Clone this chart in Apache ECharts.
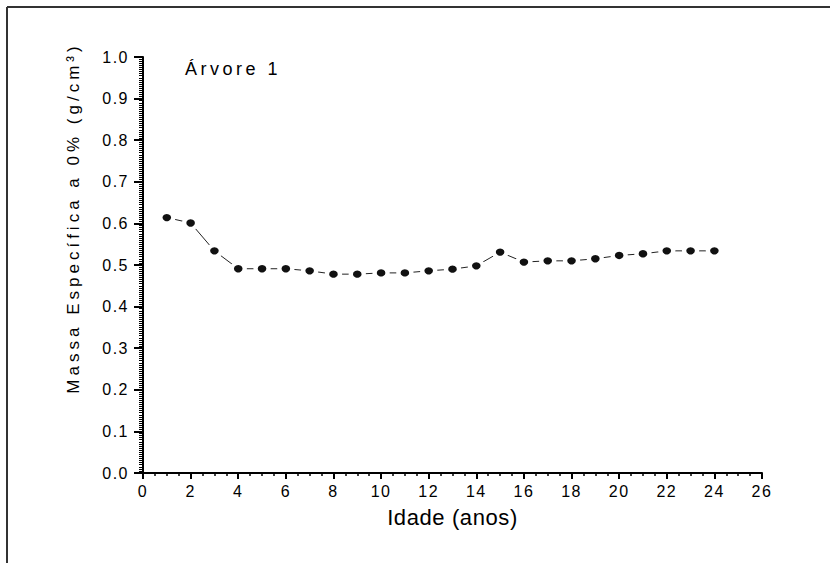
<!DOCTYPE html>
<html>
<head>
<meta charset="utf-8">
<script src="https://cdn.jsdelivr.net/npm/echarts@6/dist/echarts.min.js"></script>
<style>
    html, body { margin: 0; padding: 0; background: #fff; }
    #main { width: 830px; height: 563px; }
    /* 字间距，跟原图一样稀一点 */
    #main text { letter-spacing: 1.5px; }
    #main text[style*="22px"] { letter-spacing: 0.6px; }
    #main text[style*="17px"] { letter-spacing: 4px; }
    #main text[style*="18px"] { letter-spacing: 3.5px; }
</style>
</head>
<body>
<div id="main"></div>
<script>
// 数据：年龄 与 0% 含水率下的密度
var idade = [1, 2, 3, 4, 5, 6, 7, 8, 9, 10, 11, 12, 13, 14, 15, 16, 17, 18, 19, 20, 21, 22, 23, 24];
var massa = [0.614, 0.601, 0.534, 0.491, 0.491, 0.491, 0.486, 0.478, 0.478, 0.481, 0.481, 0.486,
             0.490, 0.498, 0.531, 0.507, 0.510, 0.510, 0.515, 0.523, 0.527, 0.534, 0.534, 0.534];
var xTicks = [0, 2, 4, 6, 8, 10, 12, 14, 16, 18, 20, 22, 24, 26];
var yTicks = [0.0, 0.1, 0.2, 0.3, 0.4, 0.5, 0.6, 0.7, 0.8, 0.9, 1.0];

var pts = idade.map(function (x, i) { return [x, massa[i]]; });

var myChart = echarts.init(document.getElementById('main'), null, { renderer: 'svg' });

option = {
    animation: false,
    backgroundColor: '#fff',
    grid: {
        left: 143,
        right: 68,
        top: 57,
        bottom: 90
    },
    xAxis: {
        type: 'value',
        min: xTicks[0],
        max: xTicks[xTicks.length - 1],
        interval: 2,
        name: 'Idade (anos)',
        nameLocation: 'middle',
        nameGap: 33,
        nameTextStyle: { fontFamily: 'Liberation Sans', fontSize: 22, color: '#000' },
        axisLine: { lineStyle: { color: '#000', width: 2 } },
        axisTick: { length: 6, lineStyle: { color: '#000', width: 2 } },
        minorTick: { show: true, splitNumber: 4, length: 3, lineStyle: { color: '#000', width: 1.5 } },
        axisLabel: { margin: 10, fontFamily: 'Liberation Sans', fontSize: 16, color: '#000' },
        splitLine: { show: false }
    },
    yAxis: {
        type: 'value',
        min: yTicks[0],
        max: yTicks[yTicks.length - 1],
        interval: 0.1,
        axisLine: { show: true, lineStyle: { color: '#000', width: 2 } },
        axisTick: { show: true, length: 9, lineStyle: { color: '#000', width: 2 } },
        minorTick: { show: true, splitNumber: 20, length: 4, lineStyle: { color: '#000', width: 1 } },
        axisLabel: {
            margin: 14,
            fontFamily: 'Liberation Sans',
            fontSize: 16,
            color: '#000',
            formatter: function (v) { return v.toFixed(1); }
        },
        splitLine: { show: false }
    },
    graphic: [
        // 外框（只有上边和左边）
        { type: 'line', shape: { x1: 7, y1: 7, x2: 830, y2: 7 }, style: { stroke: '#333', lineWidth: 2 } },
        { type: 'line', shape: { x1: 7, y1: 7, x2: 7, y2: 563 }, style: { stroke: '#333', lineWidth: 2 } },
        {
            type: 'text',
            x: 73,
            y: 218,
            rotation: Math.PI / 2,
            style: {
                text: 'Massa Específica a 0% (g/cm³)',
                font: '17px "Liberation Sans"',
                fill: '#000',
                align: 'center',
                verticalAlign: 'middle'
            }
        },
        {
            type: 'text',
            left: 185,
            top: 60,
            style: {
                text: 'Árvore 1',
                font: '18px "Liberation Sans"',
                fill: '#000'
            }
        }
    ],
    series: [
        {
            name: 'Árvore 1',
            type: 'line',
            data: pts,
            symbol: 'circle',
            symbolSize: [13, 11],
            lineStyle: { color: '#222', width: 1 },
            itemStyle: { color: '#111', borderColor: '#fff', borderWidth: 4 },
            z: 3
        }
    ]
};

myChart.setOption(option);
</script>
</body>
</html>
